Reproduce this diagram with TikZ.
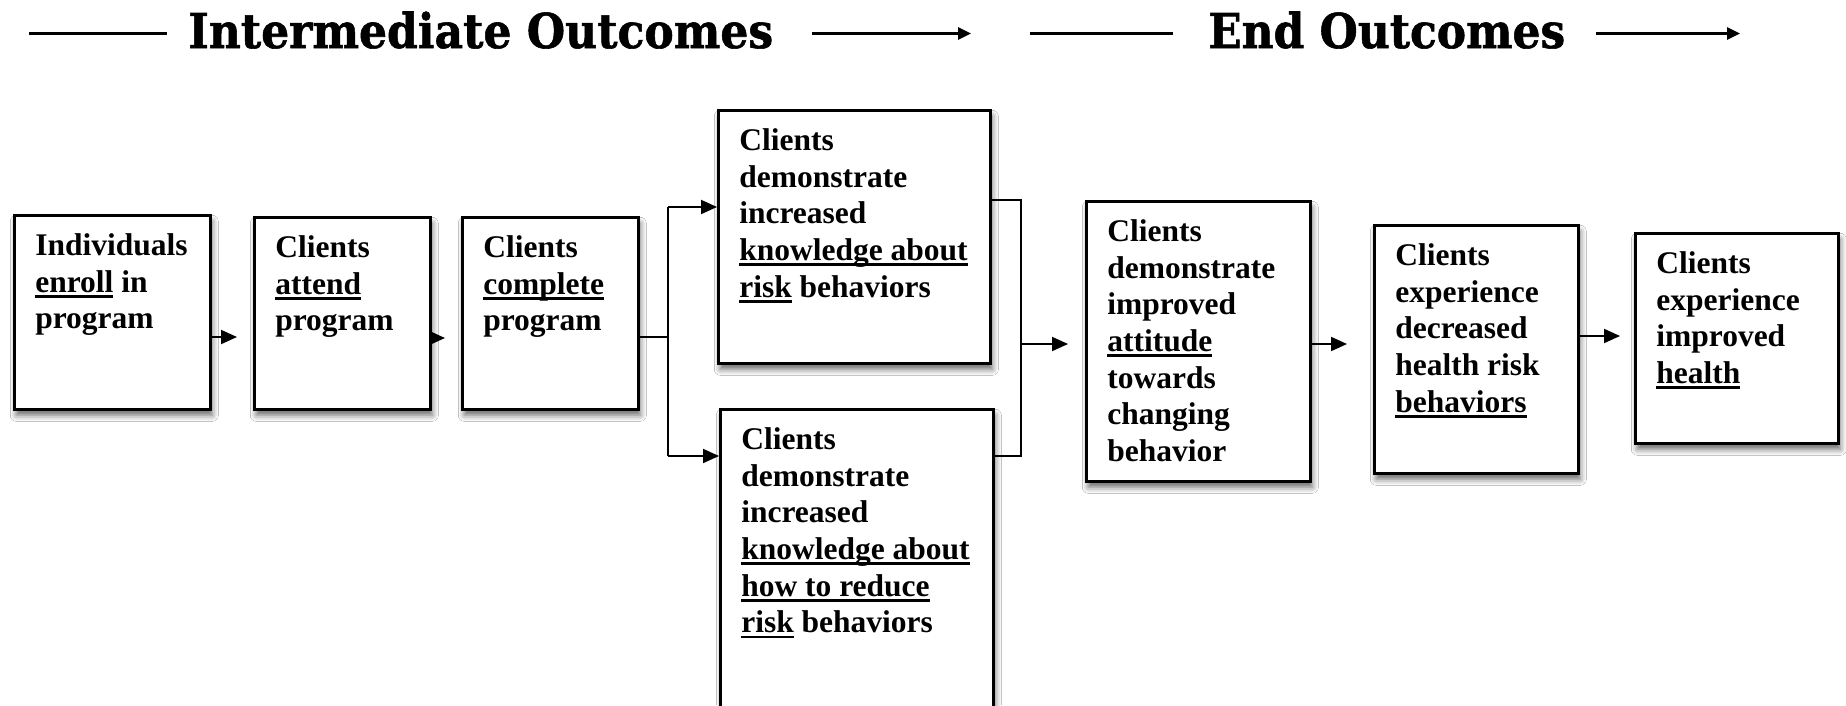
\documentclass[tikz,border=0pt]{standalone}
\usepackage{fontspec}
\setmainfont{Liberation Serif}
\newfontfamily\headfont[BoldFeatures={FakeBold=1.2}]{DejaVu Serif}
\usepackage{graphicx}
\usetikzlibrary{arrows.meta,shadows.blur}

% underline drawn as a thick rule just below the baseline
\newsavebox\ulbox
\newcommand\ulx[1]{\sbox\ulbox{#1}\rlap{\rule[-5.5pt]{\wd\ulbox}{2.8pt}}\usebox\ulbox}

% text block of a stage box: width, height, lines
\newcommand\stagetext[3]{\parbox[t][#2pt][t]{#1pt}{\leftskip=21pt\parindent=0pt
  \rightskip=0pt plus 1fil\fontsize{31.5}{36.7}\selectfont\bfseries
  \rule{0pt}{40pt}#3}}

\tikzset{
  stage/.style={draw, line width=2.6pt, fill=white, inner sep=0pt, anchor=north west,
    blur shadow={shadow xshift=2pt, shadow yshift=-6pt, shadow blur radius=6pt, shadow opacity=60}},
  conn/.style={line width=2pt, -{Triangle[length=16pt,width=14pt]}},
  link/.style={line width=2pt},
  headrule/.style={line width=2.6pt},
  headarrow/.style={line width=2.6pt, -{Triangle[length=13pt,width=12pt]}},
  heading/.style={anchor=base west, inner sep=0pt}
}

\begin{document}
\begin{tikzpicture}[x=1pt,y=-1pt]
\clip (0,0) rectangle (1846,705);
\fill[white] (0,0) rectangle (1846,705);

% headings
\node[heading] (h1) at (188,48) {\resizebox{585pt}{\height}{\headfont\bfseries\fontsize{48}{50}\selectfont Intermediate Outcomes}};
\node[heading] (h2) at (1208,48) {\resizebox{357pt}{\height}{\headfont\bfseries\fontsize{48}{50}\selectfont End Outcomes}};
\coordinate (r1a) at (29,33.5);  \coordinate (r1b) at (167,33.5);
\coordinate (a1a) at (812,33.5); \coordinate (a1b) at (971,33.5);
\coordinate (r2a) at (1030,33.5); \coordinate (r2b) at (1173,33.5);
\coordinate (a2a) at (1596,33.5); \coordinate (a2b) at (1740,33.5);
\draw[headrule] (r1a) -- (r1b);
\draw[headarrow] (a1a) -- (a1b);
\draw[headrule] (r2a) -- (r2b);
\draw[headarrow] (a2a) -- (a2b);

% stage boxes
\node[stage] (b1) at (13,214) {\stagetext{196}{194}{Individuals\\ \ulx{enroll} in\\ program}};
\node[stage] (b2) at (253,216) {\stagetext{176}{192}{Clients\\ \ulx{attend}\\ program}};
\node[stage] (b3) at (461,216) {\stagetext{176}{192}{Clients\\ \ulx{complete}\\ program}};
\node[stage] (b4) at (717,109) {\stagetext{272}{253}{Clients\\ demonstrate\\ increased\\ \ulx{knowledge about}\\ \ulx{risk} behaviors}};
\node[stage] (b5) at (719,408) {\stagetext{273}{330}{Clients\\ demonstrate\\ increased\\ \ulx{knowledge about}\\ \ulx{how to reduce}\\ \ulx{risk} behaviors}};
\node[stage] (b6) at (1085,200) {\stagetext{224}{280}{Clients\\ demonstrate\\ improved\\ \ulx{attitude}\\ towards\\ changing\\ behavior}};
\node[stage] (b7) at (1373,224) {\stagetext{204}{248}{Clients\\ experience\\ decreased\\ health risk\\ \ulx{behaviors}}};
\node[stage] (b8) at (1634,232) {\stagetext{203}{210}{Clients\\ experience\\ improved\\ \ulx{health}}};

% connector points
\coordinate (t12) at (237,337);
\coordinate (t23) at (445,338);
\coordinate (split) at (668,337);
\coordinate (splittop) at (668,207);
\coordinate (splitbot) at (668,456);
\coordinate (mergetop) at (1021,200);
\coordinate (mergebot) at (1021,456);
\coordinate (merge) at (1021,344);
\coordinate (t56) at (1068,344);
\coordinate (t67) at (1347,344);
\coordinate (t78) at (1620,336);

\draw[conn] (b1.east |- t12) -- (t12);
\draw[conn] (b2.east |- t23) -- (t23);
\draw[link] (b3.east |- split) -- (split);
\draw[link] (splittop) -- (splitbot);
\draw[conn] (splittop) -- (b4.west |- splittop);
\draw[conn] (splitbot) -- (b5.west |- splitbot);
\draw[link] (b4.east |- mergetop) -- (mergetop) -- (mergebot) -- (b5.east |- mergebot);
\draw[conn] (merge) -- (t56);
\draw[conn] (b6.east |- t67) -- (t67);
\draw[conn] (b7.east |- t78) -- (t78);
\end{tikzpicture}
\end{document}
